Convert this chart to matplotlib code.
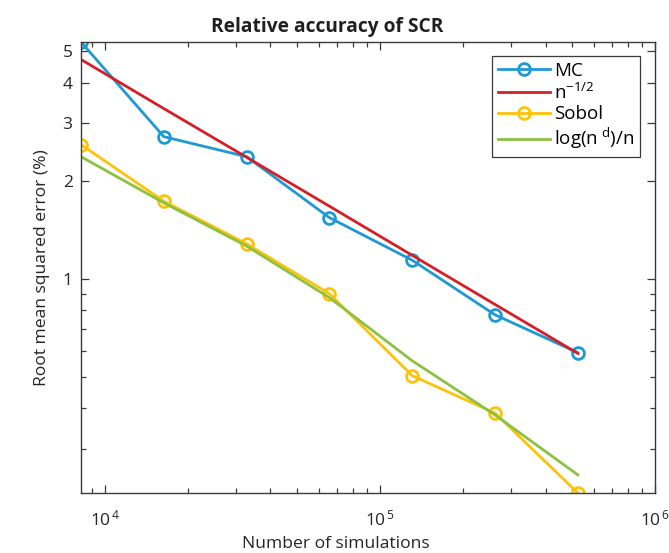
import numpy as np
import matplotlib
matplotlib.use("Agg")
import matplotlib.pyplot as plt
from matplotlib.ticker import FixedLocator, NullFormatter, FixedFormatter

plt.rcParams['font.family'] = ['Open Sans', 'DejaVu Sans']
plt.rcParams['mathtext.fontset'] = 'custom'
plt.rcParams['mathtext.rm'] = 'Open Sans'
plt.rcParams['mathtext.it'] = 'Open Sans'
plt.rcParams['mathtext.bf'] = 'Open Sans:bold'

# ============================================================
# DATA
# ============================================================
n_sims = [8192, 16384, 32768, 65536, 131072, 262144, 524288]
mc_err = [5.33, 2.73, 2.37, 1.54, 1.14, 0.775, 0.593]
ref_half = [4.71, 3.33, 2.36, 1.67, 1.18, 0.834, 0.590]
sobol_err = [2.58, 1.73, 1.28, 0.90, 0.504, 0.387, 0.22]
ref_logn = [2.37, 1.71, 1.26, 0.875, 0.56, 0.382, 0.25]

C_MC = '#1f98d6'
C_HALF = '#d41f26'
C_SOBOL = '#fcc30a'
C_LOGN = '#8cc23f'
AX_COL = '#3a3a3a'

fig = plt.figure(figsize=(6.69, 5.53), dpi=100, facecolor='white')
ax = fig.add_axes([81/669, 1 - 493/553, 574/669, 451/553])

lw = 2.0
ax.plot(n_sims, mc_err, '-o', color=C_MC, lw=lw, ms=8.5, mfc='none', mew=2.0, label='MC')
ax.plot(n_sims, ref_half, '-', color=C_HALF, lw=lw, label=r'n$^{-1/2}$')
ax.plot(n_sims, sobol_err, '-o', color=C_SOBOL, lw=lw, ms=8.5, mfc='none', mew=2.0, label='Sobol')
ax.plot(n_sims, ref_logn, '-', color=C_LOGN, lw=lw, label=r'log(n$^{\ d}$)/n')

ax.set_xscale('log')
ax.set_yscale('log')
ax.set_xlim(n_sims[0], 1e6)
ax.set_ylim(min(sobol_err), max(mc_err))

# ticks, MATLAB style
ax.xaxis.set_major_locator(FixedLocator([1e4, 1e5, 1e6]))
ax.xaxis.set_major_formatter(FixedFormatter([r'$10^{\,4}$', r'$10^{\,5}$', r'$10^{\,6}$']))
xminor = [m * 10**e for e in (3, 4, 5) for m in range(2, 10)]
ax.xaxis.set_minor_locator(FixedLocator(xminor))
ax.xaxis.set_minor_formatter(NullFormatter())

ax.yaxis.set_major_locator(FixedLocator([1, 2, 3, 4, 5]))
ax.yaxis.set_major_formatter(FixedFormatter(['1', '2', '3', '4', '5']))
ax.yaxis.set_minor_locator(FixedLocator([0.3, 0.4, 0.5, 0.6, 0.7, 0.8, 0.9]))
ax.yaxis.set_minor_formatter(NullFormatter())

ax.tick_params(which='both', direction='in', top=True, right=True, color=AX_COL,
               labelcolor='#262626', labelsize=12.5)
ax.tick_params(which='major', length=6, width=0.9)
ax.tick_params(which='minor', length=3.5, width=0.9)
ax.tick_params(axis='x', pad=12)
ax.tick_params(axis='y', pad=6)
for s in ax.spines.values():
    s.set_color(AX_COL)
    s.set_linewidth(1.0)

ax.set_title('Relative accuracy of SCR', fontsize=13.8, fontweight='bold', color='#202020',
             x=0.429, pad=7)
ax.set_xlabel('Number of simulations', fontsize=12.6, color='#262626')
ax.xaxis.set_label_coords(0.444, -0.095)
ax.set_ylabel('Root mean squared error (%)', fontsize=12.6, color='#262626')
ax.yaxis.set_label_coords(-0.054, 0.5)

leg = ax.legend(loc='upper right', bbox_to_anchor=(0.974, 0.969), fontsize=13.5,
                fancybox=False, framealpha=1, edgecolor=AX_COL, handlelength=2.8,
                handletextpad=0.2, borderpad=0.3, labelspacing=0.15, borderaxespad=0)
leg.get_frame().set_linewidth(0.9)

fig.savefig('out.png', dpi=100, facecolor='white')
